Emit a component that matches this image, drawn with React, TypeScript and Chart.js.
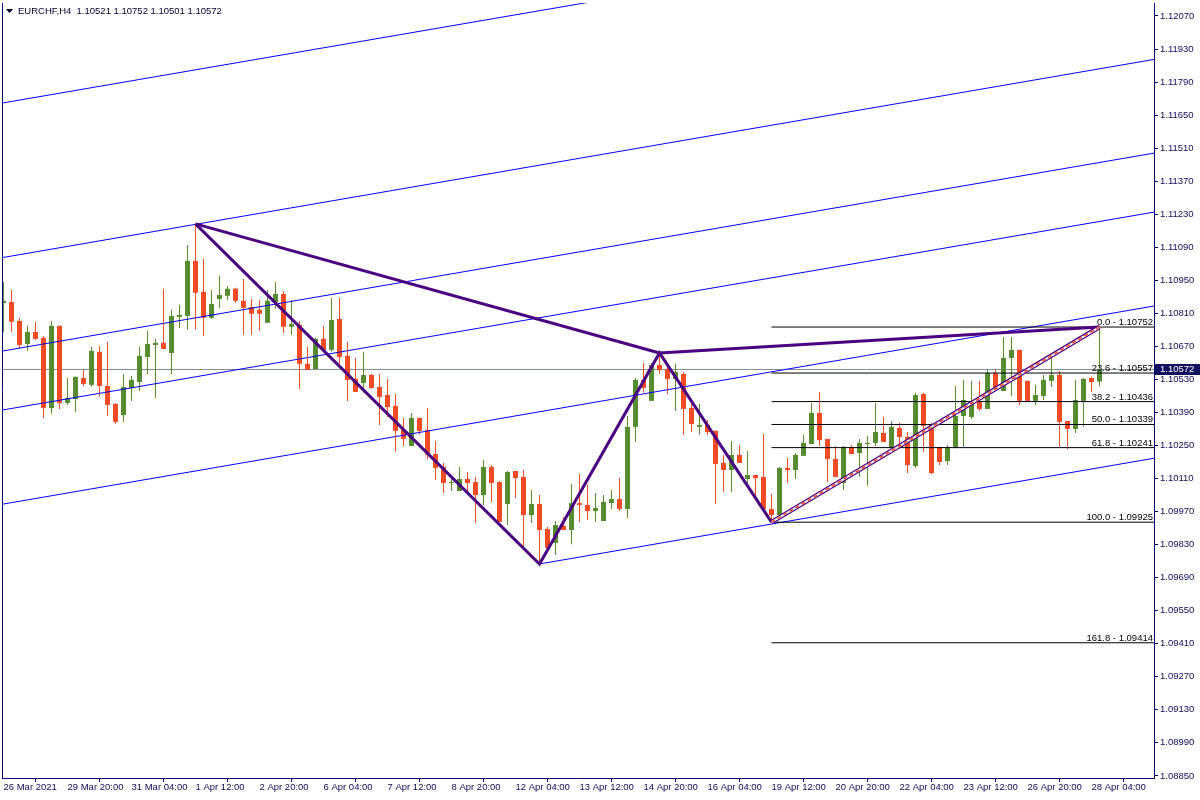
import React, { useEffect, useRef } from "react";
import { Chart, registerables } from "chart.js";

Chart.register(...registerables);

// ---- Data (EURCHF H4) ----
const opens = [
  1.10854, 1.10858, 1.10778, 1.10680, 1.10731, 1.10706, 1.10409, 1.10757, 1.10430, 1.10447,
  1.10536, 1.10507, 1.10647, 1.10502, 1.10426, 1.10379, 1.10494, 1.10519, 1.10625, 1.10676,
  1.10685, 1.10642, 1.10795, 1.10799, 1.11032, 1.10901, 1.10791, 1.10871, 1.10884, 1.10914,
  1.10863, 1.10837, 1.10825, 1.10770, 1.10858, 1.10892, 1.10753, 1.10761, 1.10596, 1.10574,
  1.10702, 1.10655, 1.10786, 1.10630, 1.10532, 1.10515, 1.10549, 1.10498, 1.10464, 1.10418,
  1.10316, 1.10248, 1.10367, 1.10316, 1.10214, 1.10159, 1.10091, 1.10057, 1.10108, 1.10095,
  1.10040, 1.10159, 1.10095, 1.10002, 1.10142, 1.10117, 1.09955, 1.10002, 1.09896, 1.09837,
  1.09909, 1.09892, 1.10006, 1.09998, 1.09972, 1.09930, 1.10006, 1.10023, 1.09981, 1.10329,
  1.10528, 1.10439, 1.10591, 1.10574, 1.10532, 1.10553, 1.10409, 1.10329, 1.10337, 1.10312,
  1.10176, 1.10146, 1.10210, 1.10108, 1.10125, 1.10117, 1.09981, 1.09955, 1.10155, 1.10146,
  1.10206, 1.10256, 1.10388, 1.10278, 1.10193, 1.10091, 1.10244, 1.10218, 1.10256, 1.10261,
  1.10303, 1.10239, 1.10324, 1.10286, 1.10163, 1.10468, 1.10337, 1.10244, 1.10184, 1.10239,
  1.10375, 1.10371, 1.10435, 1.10405, 1.10557, 1.10481, 1.10621, 1.10655, 1.10524, 1.10439,
  1.10460, 1.10524, 1.10549, 1.10354, 1.10320, 1.10439, 1.10536, 1.10521,
];
const highs = [
  1.10943, 1.10909, 1.10791, 1.10757, 1.10774, 1.10714, 1.10778, 1.10757, 1.10536, 1.10541,
  1.10570, 1.10668, 1.10672, 1.10689, 1.10430, 1.10553, 1.10545, 1.10668, 1.10736, 1.10702,
  1.10914, 1.10825, 1.10846, 1.11100, 1.11189, 1.11041, 1.10909, 1.10969, 1.10926, 1.10918,
  1.10956, 1.10871, 1.10867, 1.10909, 1.10943, 1.10905, 1.10867, 1.10778, 1.10668, 1.10706,
  1.10757, 1.10875, 1.10875, 1.10689, 1.10621, 1.10647, 1.10553, 1.10553, 1.10532, 1.10468,
  1.10367, 1.10388, 1.10367, 1.10409, 1.10269, 1.10176, 1.10125, 1.10159, 1.10138, 1.10117,
  1.10189, 1.10167, 1.10100, 1.10142, 1.10142, 1.10146, 1.10061, 1.10040, 1.09905, 1.09930,
  1.09947, 1.10087, 1.10129, 1.10083, 1.10049, 1.10040, 1.10061, 1.10112, 1.10375, 1.10536,
  1.10600, 1.10600, 1.10642, 1.10591, 1.10596, 1.10562, 1.10426, 1.10426, 1.10358, 1.10312,
  1.10210, 1.10269, 1.10252, 1.10227, 1.10125, 1.10299, 1.10044, 1.10159, 1.10197, 1.10218,
  1.10295, 1.10430, 1.10477, 1.10278, 1.10248, 1.10248, 1.10252, 1.10278, 1.10290, 1.10430,
  1.10371, 1.10354, 1.10346, 1.10307, 1.10473, 1.10473, 1.10346, 1.10244, 1.10252, 1.10502,
  1.10528, 1.10524, 1.10524, 1.10570, 1.10570, 1.10710, 1.10710, 1.10655, 1.10524, 1.10507,
  1.10549, 1.10625, 1.10566, 1.10354, 1.10528, 1.10536, 1.10541, 1.10752,
];
const lows = [
  1.10731, 1.10731, 1.10659, 1.10651, 1.10697, 1.10367, 1.10384, 1.10405, 1.10422, 1.10392,
  1.10502, 1.10498, 1.10456, 1.10375, 1.10341, 1.10350, 1.10439, 1.10481, 1.10553, 1.10451,
  1.10659, 1.10553, 1.10748, 1.10740, 1.10740, 1.10714, 1.10786, 1.10833, 1.10867, 1.10854,
  1.10719, 1.10719, 1.10736, 1.10770, 1.10829, 1.10727, 1.10719, 1.10490, 1.10570, 1.10574,
  1.10655, 1.10647, 1.10596, 1.10439, 1.10477, 1.10473, 1.10490, 1.10337, 1.10371, 1.10223,
  1.10248, 1.10248, 1.10295, 1.10193, 1.10104, 1.10049, 1.10057, 1.10057, 1.10057, 1.09922,
  1.09998, 1.10011, 1.09926, 1.09913, 1.10028, 1.09811, 1.09922, 1.09748, 1.09816, 1.09786,
  1.09892, 1.09832, 1.09926, 1.09934, 1.09926, 1.09930, 1.09981, 1.09972, 1.09943, 1.10265,
  1.10473, 1.10439, 1.10553, 1.10468, 1.10396, 1.10295, 1.10307, 1.10295, 1.10295, 1.10002,
  1.10053, 1.10053, 1.10176, 1.10091, 1.10019, 1.09981, 1.09925, 1.09955, 1.10091, 1.10108,
  1.10206, 1.10256, 1.10248, 1.10095, 1.10117, 1.10061, 1.10214, 1.10117, 1.10079, 1.10248,
  1.10265, 1.10239, 1.10244, 1.10133, 1.10155, 1.10223, 1.10129, 1.10167, 1.10167, 1.10239,
  1.10239, 1.10362, 1.10396, 1.10405, 1.10485, 1.10481, 1.10460, 1.10422, 1.10439, 1.10422,
  1.10443, 1.10498, 1.10244, 1.10235, 1.10303, 1.10329, 1.10477, 1.10501,
];
const closes = [
  1.10863, 1.10774, 1.10676, 1.10731, 1.10702, 1.10409, 1.10757, 1.10430, 1.10451, 1.10541,
  1.10511, 1.10651, 1.10502, 1.10422, 1.10350, 1.10498, 1.10528, 1.10630, 1.10680, 1.10685,
  1.10659, 1.10799, 1.10803, 1.11032, 1.10897, 1.10791, 1.10850, 1.10888, 1.10914, 1.10863,
  1.10833, 1.10808, 1.10808, 1.10863, 1.10892, 1.10753, 1.10765, 1.10596, 1.10570, 1.10702,
  1.10655, 1.10782, 1.10625, 1.10528, 1.10477, 1.10549, 1.10494, 1.10456, 1.10413, 1.10312,
  1.10278, 1.10367, 1.10312, 1.10210, 1.10155, 1.10091, 1.10095, 1.10108, 1.10091, 1.10040,
  1.10159, 1.10091, 1.09926, 1.10138, 1.10112, 1.09955, 1.10002, 1.09892, 1.09816, 1.09913,
  1.09892, 1.10006, 1.09998, 1.09972, 1.09985, 1.10011, 1.10023, 1.09981, 1.10329, 1.10528,
  1.10494, 1.10591, 1.10570, 1.10532, 1.10562, 1.10405, 1.10341, 1.10337, 1.10307, 1.10172,
  1.10146, 1.10210, 1.10176, 1.10125, 1.10112, 1.09981, 1.09955, 1.10155, 1.10146, 1.10210,
  1.10261, 1.10388, 1.10273, 1.10193, 1.10117, 1.10244, 1.10214, 1.10261, 1.10261, 1.10307,
  1.10265, 1.10329, 1.10286, 1.10167, 1.10464, 1.10333, 1.10133, 1.10180, 1.10244, 1.10375,
  1.10443, 1.10430, 1.10405, 1.10557, 1.10485, 1.10621, 1.10655, 1.10439, 1.10439, 1.10464,
  1.10528, 1.10549, 1.10350, 1.10320, 1.10443, 1.10532, 1.10519, 1.10572,
];

const xTickIndex = [0, 8, 16, 24, 32, 40, 48, 56, 64, 72, 80, 88, 96, 104, 112, 120, 128, 136];
const xTickLabels = [
  "26 Mar 2021", "29 Mar 20:00", "31 Mar 04:00", "1 Apr 12:00", "2 Apr 20:00", "6 Apr 04:00",
  "7 Apr 12:00", "8 Apr 20:00", "12 Apr 04:00", "13 Apr 12:00", "14 Apr 20:00", "16 Apr 04:00",
  "19 Apr 12:00", "20 Apr 20:00", "22 Apr 04:00", "23 Apr 12:00", "26 Apr 20:00", "28 Apr 04:00",
];
const yTickValues = [
  1.12070, 1.11930, 1.11790, 1.11650, 1.11510, 1.11370, 1.11230, 1.11090, 1.10950, 1.10810,
  1.10670, 1.10530, 1.10390, 1.10250, 1.10110, 1.09970, 1.09830, 1.09690, 1.09550, 1.09410,
  1.09270, 1.09130, 1.08990, 1.08850,
];

// Parallel (channel) lines: anchor points [bar index, price]
const channelStartIdx = [0, 0, 0, 0, 0, 67];
const channelStartPrice = [1.11702, 1.11047, 1.10651, 1.10401, 1.10002, 1.09748];
const channelEndIdx = [144, 144, 144, 144, 144, 144];
const channelEndPrice = [1.12541, 1.11887, 1.11490, 1.11240, 1.10842, 1.10197];
const channelIsRay = [false, false, false, false, false, true];

// Pattern pivots (A, B, C, D, E)
const pivotIdx = [24, 67, 82, 96, 137];
const pivotPrice = [1.11189, 1.09748, 1.10642, 1.09925, 1.10752];

// Fibonacci retracement
const fibLevels = [0, 23.6, 38.2, 50, 61.8, 100, 161.8];
const fibPrices = [1.10752, 1.10557, 1.10436, 1.10339, 1.10241, 1.09925, 1.09414];
const fibStartIdx = 96;

const X_MIN = -0.1875;
const X_MAX = 143.8125;
const Y_MIN = 1.08841;
const Y_MAX = 1.12125;

const GREEN = "#548c2f";
const RED = "#f04b24";
const NAVY = "#000080";
const LABEL = "#0c0c5e";
const BLUE = "#0000ff";
const PURPLE = "#4b0082";
const GRAY = "#808a96";
const FONT_FAMILY = "'Liberation Sans', Arial, sans-serif";
const FONT_SIZE = 9.5;

function extendLine(x1: number, y1: number, x2: number, y2: number, ray: boolean) {
  const k = (y2 - y1) / (x2 - x1);
  const xs = ray ? x1 : X_MIN - 1;
  const xe = X_MAX + 1;
  return [
    { x: xs, y: y1 + k * (xs - x1) },
    { x: xe, y: y1 + k * (xe - x1) },
  ];
}

function lineDs(data: { x: number; y: number }[], color: string, width: number, order: number, dash: number[] = []) {
  return {
    type: "line" as const,
    data,
    borderColor: color,
    backgroundColor: color,
    borderWidth: width,
    borderDash: dash,
    pointRadius: 0,
    pointHoverRadius: 0,
    fill: false,
    tension: 0,
    order,
    clip: 0,
  };
}

const overlayPlugin = {
  id: "overlay",
  afterDraw(chart: any) {
    const { ctx, chartArea } = chart;
    const y = chart.scales.y;
    const font = `${FONT_SIZE}px ${FONT_FAMILY}`;
    ctx.save();
    // left frame
    ctx.strokeStyle = NAVY;
    ctx.lineWidth = 1;
    ctx.beginPath();
    ctx.moveTo(chartArea.left + 0.5, chartArea.top);
    ctx.lineTo(chartArea.left + 0.5, chartArea.bottom);
    ctx.stroke();

    // fib labels
    ctx.font = font;
    ctx.fillStyle = "#000000";
    ctx.textAlign = "right";
    ctx.textBaseline = "alphabetic";
    fibLevels.forEach((lv, k) => {
      const py = y.getPixelForValue(fibPrices[k]);
      ctx.fillText(`${lv.toFixed(1)} - ${fibPrices[k].toFixed(5)}`, chartArea.right - 1, py - 2);
    });

    // current price box
    const last = closes.length - 1;
    const cy = Math.round(y.getPixelForValue(closes[last]));
    ctx.fillStyle = "#10105e";
    ctx.fillRect(chartArea.right + 1, cy - 5, 46, 11);
    ctx.fillStyle = "#ffffff";
    ctx.textAlign = "left";
    ctx.textBaseline = "middle";
    ctx.fillText(closes[last].toFixed(5), chartArea.right + 6, cy + 0.5);

    // header
    ctx.fillStyle = "#000033";
    ctx.beginPath();
    ctx.moveTo(6, 9);
    ctx.lineTo(13, 9);
    ctx.lineTo(9.5, 13);
    ctx.closePath();
    ctx.fill();
    ctx.fillStyle = "#000033";
    ctx.textAlign = "left";
    ctx.textBaseline = "middle";
    ctx.fillText(
      `EURCHF,H4  ${opens[last].toFixed(5)} ${highs[last].toFixed(5)} ${lows[last].toFixed(5)} ${closes[last].toFixed(5)}`,
      18,
      11
    );
    ctx.restore();
  },
};

export default function App() {
  const ref = useRef<HTMLCanvasElement>(null);

  useEffect(() => {
    const idx = opens.map((_, i) => i);
    const isUp = (i: number) => closes[i] >= opens[i];
    const last = closes.length - 1;

    const channelSets = channelStartIdx.map((s, k) =>
      lineDs(extendLine(s, channelStartPrice[k], channelEndIdx[k], channelEndPrice[k], channelIsRay[k]), BLUE, 1, 6)
    );
    const pv = pivotIdx.map((x, k) => ({ x, y: pivotPrice[k] }));
    const fibSets = fibPrices.map((p) => lineDs([{ x: fibStartIdx, y: p }, { x: X_MAX + 1, y: p }], "#000000", 1, 5));

    const chart = new Chart(ref.current as HTMLCanvasElement, {
      type: "bar",
      data: {
        datasets: [
          lineDs([pv[3], pv[4]], RED, 1.5, 0, [4, 3]),
          lineDs([pv[3], pv[4]], "#ffffff", 2, 1),
          lineDs([pv[3], pv[4]], PURPLE, 4.5, 2),
          lineDs([pv[0], pv[1], pv[2], pv[3]], PURPLE, 3, 3),
          lineDs([pv[0], pv[2]], PURPLE, 3, 3),
          lineDs([pv[2], pv[4]], PURPLE, 3, 3),
          ...fibSets,
          ...channelSets,
          {
            type: "bar" as const,
            data: idx.map((i) => ({ x: i, y: [opens[i], closes[i]] })),
            backgroundColor: idx.map((i) => (isUp(i) ? GREEN : RED)),
            borderWidth: 0,
            barThickness: 5,
            minBarLength: 1,
            grouped: false,
            inflateAmount: 0,
            order: 8,
          },
          {
            type: "bar" as const,
            data: idx.map((i) => ({ x: i, y: [lows[i], highs[i]] })),
            backgroundColor: idx.map((i) => (isUp(i) ? GREEN : RED)),
            borderWidth: 0,
            barThickness: 1,
            minBarLength: 1,
            grouped: false,
            inflateAmount: 0,
            order: 9,
          },
          lineDs([{ x: X_MIN - 1, y: closes[last] }, { x: X_MAX + 1, y: closes[last] }], GRAY, 1, 10),
        ] as any,
      },
      options: {
        responsive: false,
        devicePixelRatio: 1,
        animation: false,
        events: [],
        layout: { padding: { left: 2, top: 3, right: 0, bottom: 0 } },
        plugins: { legend: { display: false }, tooltip: { enabled: false }, title: { display: false } },
        scales: {
          x: {
            type: "linear",
            min: X_MIN,
            max: X_MAX,
            offset: false,
            grid: { display: true, drawOnChartArea: false, drawTicks: true, tickLength: 4, color: NAVY },
            border: { display: true, color: NAVY, width: 1 },
            afterBuildTicks: (s: any) => {
              s.ticks = xTickIndex.map((v) => ({ value: v }));
            },
            afterFit: (s: any) => {
              s.height = 22;
              s.paddingLeft = 0;
              s.paddingRight = 0;
            },
            ticks: {
              autoSkip: false,
              maxRotation: 0,
              minRotation: 0,
              align: "start",
              padding: 0,
              color: LABEL,
              font: { family: FONT_FAMILY, size: FONT_SIZE },
              callback: (_v: any, i: number) => xTickLabels[i],
            },
          },
          y: {
            type: "linear",
            position: "right",
            min: Y_MIN,
            max: Y_MAX,
            grid: { display: true, drawOnChartArea: false, drawTicks: true, tickLength: 4, color: NAVY },
            border: { display: true, color: NAVY, width: 1 },
            afterBuildTicks: (s: any) => {
              s.ticks = yTickValues.map((v) => ({ value: v }));
            },
            afterFit: (s: any) => {
              s.width = 46;
              s.paddingTop = 0;
              s.paddingBottom = 0;
            },
            ticks: {
              autoSkip: false,
              padding: 2,
              color: LABEL,
              font: { family: FONT_FAMILY, size: FONT_SIZE },
              callback: (v: any) => Number(v).toFixed(5),
            },
          },
        },
      } as any,
      plugins: [overlayPlugin],
    });
    return () => chart.destroy();
  }, []);

  return (
    <div style={{ position: "fixed", left: 0, top: 0, width: 1200, height: 800, background: "#ffffff" }}>
      <canvas ref={ref} width={1200} height={800} style={{ display: "block", width: 1200, height: 800 }} />
    </div>
  );
}
